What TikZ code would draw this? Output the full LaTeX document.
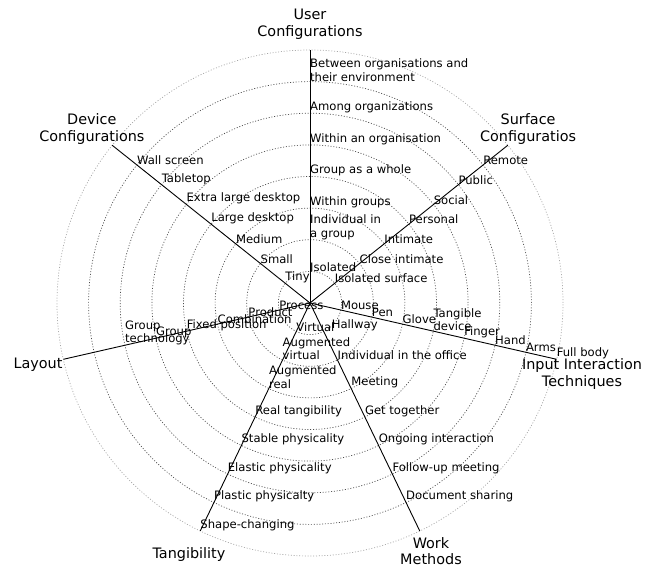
\documentclass[tikz,border=0pt]{standalone}
\usepackage{fontspec}
\setmainfont{DejaVu Sans}
\begin{document}
\begin{tikzpicture}[x=1pt, y=1pt,
    ring/.style={line width=0.7pt, black!70, dash pattern=on 1pt off 1.8pt},
    outerring/.style={line width=0.7pt, black!35, dash pattern=on 1pt off 1.8pt},
    spoke/.style={line width=0.9pt, black},
    lbl/.style={anchor=south west, inner sep=0pt, align=left, font=\fontsize{11.6}{13.3}\selectfont},
    dimname/.style={anchor=center, inner sep=0pt, align=center, font=\fontsize{14.4}{16.7}\selectfont}]
    \useasboundingbox (-310, -266) rectangle (343, 303);
    \coordinate (O) at (0, 0);
    % rings
    \draw[ring] (O) circle (31.6) circle (63.3) circle (94.9) circle (126.5)
        circle (158.1) circle (189.8) circle (221.4);
    \draw[outerring] (O) circle (253);
    % spokes
    \coordinate (U) at (90:253);
    \coordinate (S) at (38.57:253);
    \coordinate (I) at (-12.86:253);
    \coordinate (W) at (-64.29:253);
    \coordinate (T) at (-115.71:253);
    \coordinate (L) at (-167.14:253);
    \coordinate (D) at (141.43:253);
    \draw[spoke] (O) -- (U);
    \draw[spoke] (O) -- (S);
    \draw[spoke] (O) -- (I);
    \draw[spoke] (O) -- (W);
    \draw[spoke] (O) -- (T);
    \draw[spoke] (O) -- (L);
    \draw[spoke] (O) -- (D);
    % dimension names
    \node[dimname] (userdim) at (90:279) {User\\Configurations};
    \node[dimname] (surfdim) at (38.57:279) {Surface\\Configuratios};
    \node[dimname] (inputdim) at (272, -71) {Input Interaction\\Techniques};
    \node[dimname] (workdim) at (121, -248) {Work\\Methods};
    \node[dimname] (tangdim) at (-115.71:279) {Tangibility};
    \node[dimname] (laydim) at (-167.14:279) {Layout};
    \node[dimname] (devdim) at (141.43:279) {Device\\Configurations};
    % user configurations
    \node[lbl] (u1) at (90:31.6) {Isolated};
    \node[lbl] (u2) at (90:63.3) {Individual in\\a group};
    \node[lbl] (u3) at (90:94.9) {Within groups};
    \node[lbl] (u4) at (90:126.5) {Group as a whole};
    \node[lbl] (u5) at (90:158.1) {Within an organisation};
    \node[lbl] (u6) at (90:189.8) {Among organizations};
    \node[lbl] (u7) at (90:221.4) {Between organisations and\\their environment};
    % surface configurations
    \node[lbl] (s1) at (38.57:31.6) {Isolated surface};
    \node[lbl] (s2) at (38.57:63.3) {Close intimate};
    \node[lbl] (s3) at (38.57:94.9) {Intimate};
    \node[lbl] (s4) at (38.57:126.5) {Personal};
    \node[lbl] (s5) at (38.57:158.1) {Social};
    \node[lbl] (s6) at (38.57:189.8) {Public};
    \node[lbl] (s7) at (38.57:221.4) {Remote};
    % input interaction techniques
    \node[lbl] (i1) at (-12.86:31.6) {Mouse};
    \node[lbl] (i2) at (-12.86:63.3) {Pen};
    \node[lbl] (i3) at (-12.86:94.9) {Glove};
    \node[lbl] (i4) at (-12.86:126.5) {Tangible\\device};
    \node[lbl] (i5) at (-12.86:158.1) {Finger};
    \node[lbl] (i6) at (-12.86:189.8) {Hand};
    \node[lbl] (i7) at (-12.86:221.4) {Arms};
    \node[lbl] (i8) at (-12.86:253) {Full body};
    % work methods
    \node[lbl, xshift=8pt] (w1) at (-64.29:31.6) {Hallway};
    \node[lbl] (w2) at (-64.29:63.3) {Individual in the office};
    \node[lbl] (w3) at (-64.29:94.9) {Meeting};
    \node[lbl] (w4) at (-64.29:126.5) {Get together};
    \node[lbl] (w5) at (-64.29:158.1) {Ongoing interaction};
    \node[lbl] (w6) at (-64.29:189.8) {Follow-up meeting};
    \node[lbl] (w7) at (-64.29:221.4) {Document sharing};
    % tangibility
    \node[lbl] (t1) at (-115.71:31.6) {Virtual};
    \node[lbl] (t2) at (-115.71:63.3) {Augmented\\virtual};
    \node[lbl] (t3) at (-115.71:94.9) {Augmented\\real};
    \node[lbl] (t4) at (-115.71:126.5) {Real tangibility};
    \node[lbl] (t5) at (-115.71:158.1) {Stable physicality};
    \node[lbl] (t6) at (-115.71:189.8) {Elastic physicality};
    \node[lbl] (t7) at (-115.71:221.4) {Plastic physicalty};
    \node[lbl] (t8) at (-115.71:253) {Shape-changing};
    % layout
    \node[lbl] (l1) at (-167.14:31.6) {Process};
    \node[lbl] (l2) at (-167.14:63.3) {Product};
    \node[lbl] (l3) at (-167.14:94.9) {Combination};
    \node[lbl] (l4) at (-167.14:126.5) {Fixed position};
    \node[lbl] (l5) at (-167.14:158.1) {Group};
    \node[lbl] (l6) at (-167.14:189.8) {Group\\technology};
    % device configurations
    \node[lbl] (d1) at (141.43:31.6) {Tiny};
    \node[lbl] (d2) at (141.43:63.3) {Small};
    \node[lbl] (d3) at (141.43:94.9) {Medium};
    \node[lbl] (d4) at (141.43:126.5) {Large desktop};
    \node[lbl] (d5) at (141.43:158.1) {Extra large desktop};
    \node[lbl] (d6) at (141.43:189.8) {Tabletop};
    \node[lbl] (d7) at (141.43:221.4) {Wall screen};
\end{tikzpicture}
\end{document}
